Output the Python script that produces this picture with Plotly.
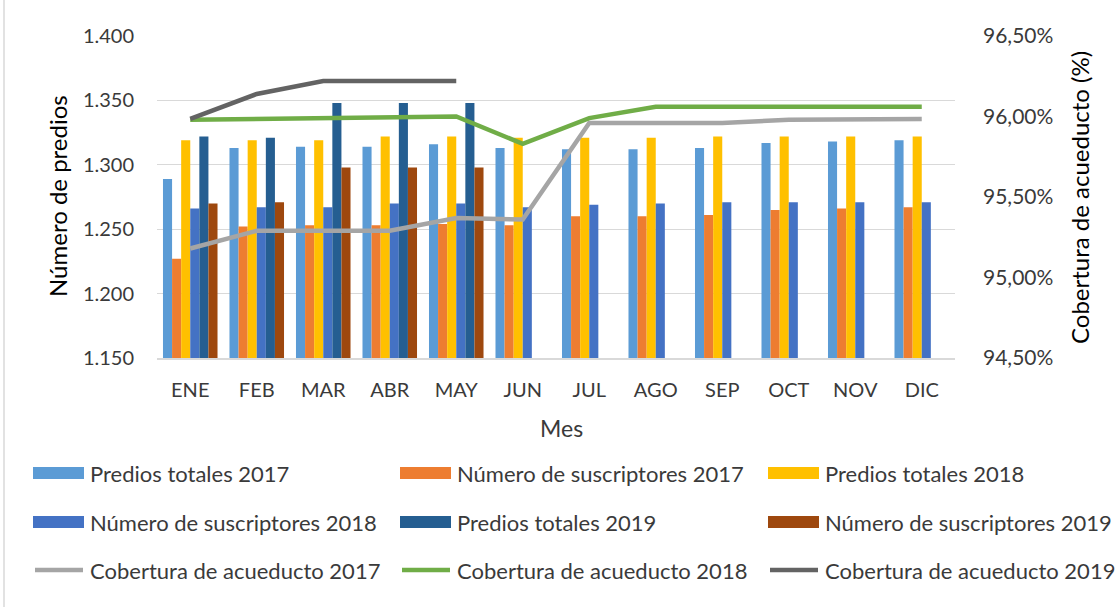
import plotly.graph_objects as go

meses = ["ENE", "FEB", "MAR", "ABR", "MAY", "JUN", "JUL", "AGO", "SEP", "OCT", "NOV", "DIC"]
predios_2017 = [1289, 1313, 1314, 1314, 1316, 1313, 1312, 1312, 1313, 1317, 1318, 1319]
suscriptores_2017 = [1227, 1252, 1253, 1253, 1254, 1253, 1260, 1260, 1261, 1265, 1266, 1267]
predios_2018 = [1319, 1319, 1319, 1322, 1322, 1321, 1321, 1321, 1322, 1322, 1322, 1322]
suscriptores_2018 = [1266, 1267, 1267, 1270, 1270, 1267, 1269, 1270, 1271, 1271, 1271, 1271]
predios_2019 = [1322, 1321, 1348, 1348, 1348, None, None, None, None, None, None, None]
suscriptores_2019 = [1270, 1271, 1298, 1298, 1298, None, None, None, None, None, None, None]
cobertura_2017 = [95.18, 95.29, 95.29, 95.29, 95.37, 95.36, 95.96, 95.96, 95.96, 95.98, 95.98, 95.985]
cobertura_2018 = [95.98, 95.985, 95.99, 96.00, 96.00, 95.83, 95.99, 96.06, 96.06, 96.06, 96.06, 96.06]
cobertura_2019 = [95.985, 96.14, 96.22, 96.22, 96.22, None, None, None, None, None, None, None]

bar_series = [
    ("Predios totales 2017", predios_2017, "#5B9BD5"),
    ("Número de suscriptores 2017", suscriptores_2017, "#ED7D31"),
    ("Predios totales 2018", predios_2018, "#FFC000"),
    ("Número de suscriptores 2018", suscriptores_2018, "#4472C4"),
    ("Predios totales 2019", predios_2019, "#255E91"),
    ("Número de suscriptores 2019", suscriptores_2019, "#9E480E"),
]
line_series = [
    ("Cobertura de acueducto 2017", cobertura_2017, "#A5A5A5"),
    ("Cobertura de acueducto 2018", cobertura_2018, "#70AD47"),
    ("Cobertura de acueducto 2019", cobertura_2019, "#636363"),
]

FONT = "Lato"
TXT = "#3A3A3A"

fig = go.Figure()
for name, vals, col in bar_series:
    fig.add_trace(go.Bar(x=meses, y=vals, name=name, marker=dict(color=col, line=dict(width=0)),
                         showlegend=False))
for name, vals, col in line_series:
    fig.add_trace(go.Scatter(x=meses, y=[None if v is None else v / 100 for v in vals], name=name,
                             yaxis="y2", mode="lines", line=dict(color=col, width=4.5),
                             showlegend=False, connectgaps=False))

# plot area in pixels
L, R, T, B = 157, 955, 36, 358
W, H = 1120, 607
pw, ph = R - L, B - T


def px(x):
    return (x - L) / pw


def py(y):
    return (B - y) / ph


shapes = []
annotations = []
# custom legend
cols_x = [33, 400, 768]
rows_y = [473, 522, 570]
items = bar_series + line_series
for i, (name, vals, col) in enumerate(items):
    r, c = divmod(i, 3)
    x0 = cols_x[c]
    yc = rows_y[r]
    if i < 6:
        shapes.append(dict(type="rect", xref="paper", yref="paper", x0=px(x0), x1=px(x0 + 51),
                           y0=py(yc + 6), y1=py(yc - 6), fillcolor=col, line=dict(width=0)))
    else:
        shapes.append(dict(type="line", xref="paper", yref="paper", x0=px(x0 + 2), x1=px(x0 + 50),
                           y0=py(yc), y1=py(yc), line=dict(color=col, width=4.5)))
    annotations.append(dict(xref="paper", yref="paper", x=px(x0 + 55), y=py(yc), text=name,
                            showarrow=False, xanchor="left", yanchor="middle",
                            font=dict(family=FONT, size=22, color=TXT)))

# chart border (left edge)
shapes.append(dict(type="line", xref="paper", yref="paper", x0=px(4), x1=px(4), y0=py(0), y1=py(H),
                   line=dict(color="#D9D9D9", width=1.5)))

# axis titles
annotations.append(dict(xref="paper", yref="paper", x=px(57), y=py(196), text="Número de predios",
                        textangle=-90, showarrow=False, xanchor="center", yanchor="middle",
                        font=dict(family=FONT, size=24, color="#000000")))
annotations.append(dict(xref="paper", yref="paper", x=px(1080), y=py(198), text="Cobertura de acueducto (%)",
                        textangle=-90, showarrow=False, xanchor="center", yanchor="middle",
                        font=dict(family=FONT, size=24, color="#000000")))
annotations.append(dict(xref="paper", yref="paper", x=px(561), y=py(428), text="Mes",
                        showarrow=False, xanchor="center", yanchor="middle",
                        font=dict(family=FONT, size=23, color=TXT)))

fig.update_layout(
    width=W, height=H,
    margin=dict(l=L, r=W - R, t=T, b=H - B, pad=0),
    paper_bgcolor="white", plot_bgcolor="white",
    separators=",.",
    barmode="group", bargap=0.18, bargroupgap=0,
    showlegend=False,
    font=dict(family=FONT, color=TXT),
    xaxis=dict(showgrid=False, showline=True, linecolor="#D9D9D9", linewidth=1.5,
               tickfont=dict(family=FONT, size=20, color=TXT), ticks="", ticklabelstandoff=13),
    yaxis=dict(range=[1150, 1400], dtick=50, tickformat=",d", showgrid=True, gridcolor="#D9D9D9",
               gridwidth=1, zeroline=False, showline=False, ticks="",
               tickfont=dict(family=FONT, size=20, color=TXT), ticklabelstandoff=22),
    yaxis2=dict(range=[0.945, 0.965], dtick=0.005, tickformat=".2%", overlaying="y", side="right",
                showgrid=False, zeroline=False, showline=False, ticks="",
                tickfont=dict(family=FONT, size=21, color=TXT), ticklabelstandoff=27),
    shapes=shapes, annotations=annotations,
)

fig.write_html("out.html", config=dict(displayModeBar=False),
               post_script="document.body.style.margin='0';document.body.style.overflow='hidden';")
